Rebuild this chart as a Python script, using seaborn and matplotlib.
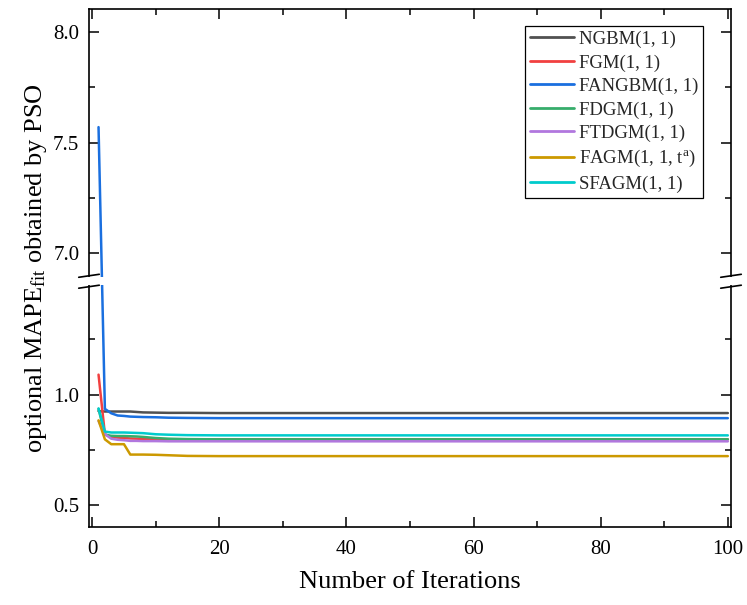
import numpy as np
import pandas as pd
import matplotlib
matplotlib.use("Agg")
import matplotlib.pyplot as plt
import matplotlib.transforms as mtransforms
from matplotlib.patches import Rectangle
from matplotlib.lines import Line2D
import seaborn as sns

# ---------------- data ----------------
iterations = [1, 2, 3, 4, 5, 6, 7, 8, 10, 12, 15, 20, 40, 60, 80, 100]
ngbm   = [0.925, 0.923, 0.923, 0.923, 0.923, 0.923, 0.921, 0.919, 0.918, 0.917, 0.917, 0.916, 0.916, 0.916, 0.916, 0.916]
fgm    = [1.090, 0.820, 0.808, 0.805, 0.803, 0.801, 0.800, 0.799, 0.798, 0.797, 0.797, 0.797, 0.797, 0.797, 0.797, 0.797]
fangbm = [7.570, 0.935, 0.915, 0.905, 0.903, 0.900, 0.899, 0.898, 0.897, 0.895, 0.894, 0.893, 0.893, 0.893, 0.893, 0.893]
fdgm   = [0.935, 0.818, 0.813, 0.812, 0.812, 0.811, 0.810, 0.808, 0.803, 0.800, 0.798, 0.797, 0.797, 0.797, 0.797, 0.797]
ftdgm  = [0.880, 0.820, 0.800, 0.795, 0.793, 0.790, 0.790, 0.789, 0.789, 0.788, 0.788, 0.788, 0.788, 0.788, 0.788, 0.788]
fagm   = [0.883, 0.797, 0.775, 0.775, 0.775, 0.728, 0.728, 0.728, 0.727, 0.725, 0.722, 0.721, 0.721, 0.721, 0.721, 0.721]
sfagm  = [0.937, 0.832, 0.828, 0.828, 0.828, 0.827, 0.826, 0.825, 0.820, 0.818, 0.816, 0.815, 0.815, 0.815, 0.815, 0.815]

series_names = ["NGBM(1, 1)", "FGM(1, 1)", "FANGBM(1, 1)", "FDGM(1, 1)",
                "FTDGM(1, 1)", r"FAGM(1, 1, t$^{\rm a}$)", "SFAGM(1, 1)"]
series_values = [ngbm, fgm, fangbm, fdgm, ftdgm, fagm, sfagm]
colors = ["#515151", "#F14040", "#1A6FDF", "#37AD6B", "#B177DE", "#CC9900", "#00CBCC"]

x_ticks = [0, 20, 40, 60, 80, 100]
x_minor = [10, 30, 50, 70, 90]
y_major = [0.5, 1.0, 7.0, 7.5, 8.0]
y_minor = [0.75, 1.25, 7.25, 7.75]

# ---------------- style ----------------
sns.set_theme(style="ticks")
plt.rcParams["font.family"] = ["Liberation Serif", "DejaVu Serif"]
plt.rcParams["mathtext.fontset"] = "custom"
plt.rcParams["mathtext.rm"] = "Liberation Serif"
plt.rcParams["mathtext.it"] = "Liberation Serif:italic"
plt.rcParams["mathtext.bf"] = "Liberation Serif:bold"

df = pd.concat([pd.DataFrame({"Iteration": iterations, "MAPE": v, "Model": n})
                for n, v in zip(series_names, series_values)], ignore_index=True)

fig = plt.figure(figsize=(7.47, 6.05), dpi=100)
ax = fig.add_axes([89 / 747, 1 - 527 / 605, 642 / 747, 518 / 605])

# broken y-axis via piecewise scale
LO, HI, GAP = 1.495, 6.89, 0.036

def fwd(y):
    y = np.asarray(y, dtype=float)
    mid = LO + (y - LO) * (GAP / (HI - LO))
    top = y - (HI - LO) + GAP
    return np.where(y <= LO, y, np.where(y >= HI, top, mid))

def inv(t):
    t = np.asarray(t, dtype=float)
    mid = LO + (t - LO) * ((HI - LO) / GAP)
    top = t + (HI - LO) - GAP
    return np.where(t <= LO, t, np.where(t >= LO + GAP, top, mid))

ax.set_yscale("function", functions=(fwd, inv))

sns.lineplot(data=df, x="Iteration", y="MAPE", hue="Model", hue_order=series_names,
             palette=dict(zip(series_names, colors)), linewidth=1.8, ax=ax,
             estimator=None, sort=False)

ax.set_xlim(-0.5, 100.5)
ax.set_ylim(0.4, 8.105)
ax.set_xticks(x_ticks)
ax.set_xticks(x_minor, minor=True)
ax.set_yticks(y_major)
ax.set_yticklabels([f"{v:.1f}" for v in y_major])
ax.set_yticks(y_minor, minor=True)
ax.yaxis.set_minor_formatter(matplotlib.ticker.NullFormatter())

ax.tick_params(which="both", direction="in", top=True, right=True, labelsize=15,
               width=1.1, color="black", labelcolor="black")
ax.tick_params(axis="y", pad=7)
ax.tick_params(axis="x", pad=9)
ax.tick_params(which="major", length=7)
ax.tick_params(which="minor", length=4.5)
for s in ax.spines.values():
    s.set_linewidth(1.2)
    s.set_color("black")

ax.set_xlabel("Number of Iterations", fontsize=19, labelpad=9, color="black")
ax.set_ylabel(r"optional MAPE$_{\rm fit}$ obtained by PSO", fontsize=19, labelpad=3, color="black")

# white gap across the break
trans = mtransforms.blended_transform_factory(ax.transAxes, ax.transData)
ax.add_patch(Rectangle((-0.03, LO), 1.06, HI - LO, transform=trans, facecolor="white",
                       edgecolor="none", clip_on=False, zorder=5))
# slanted break marks
dx, dy = 0.016, 0.0135
for xc in (0.0, 1.0):
    for yc in (HI, LO):
        ax.add_line(Line2D([xc - dx, xc + dx], [yc - dy, yc + dy], transform=trans,
                           color="black", linewidth=1.2, clip_on=False, zorder=6))

leg = ax.legend(loc="upper right", bbox_to_anchor=(0.956, 0.967), borderaxespad=0,
                fontsize=13.5, frameon=True, fancybox=False, framealpha=1,
                edgecolor="black", handlelength=2.35, handletextpad=0.25,
                labelspacing=0.33, borderpad=0.25)
leg.get_frame().set_linewidth(0.9)
for h in leg.get_lines():
    h.set_linewidth(2.0)

fig.savefig("out.png", dpi=100)
